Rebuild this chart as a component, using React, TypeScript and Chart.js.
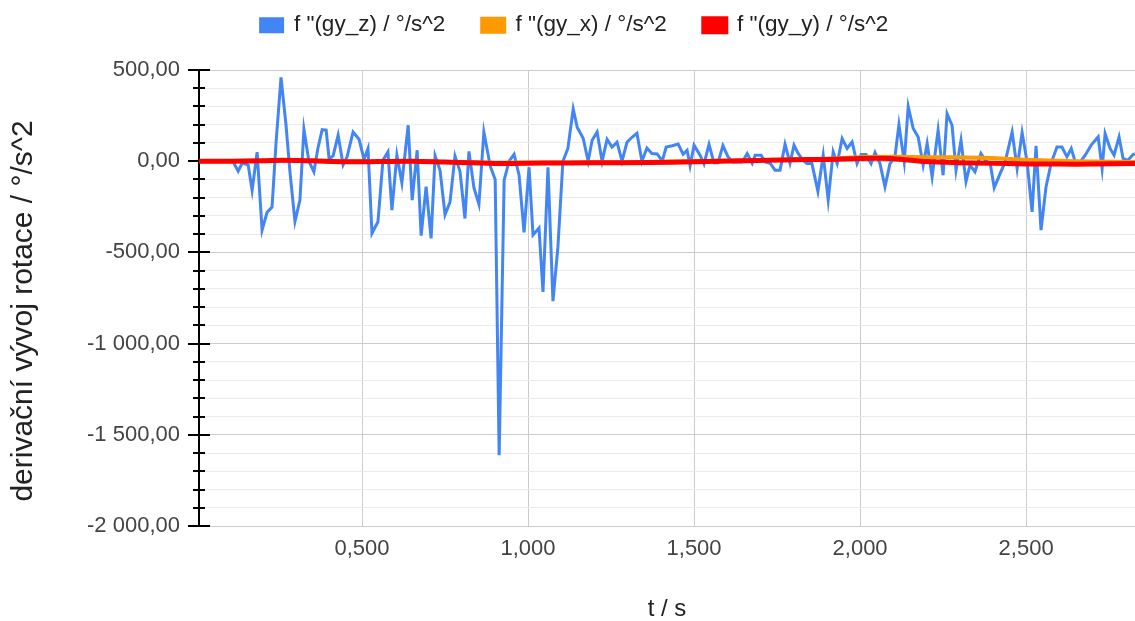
import React, { useEffect, useRef } from 'react';
import { Chart, registerables } from 'chart.js';

Chart.register(...registerables);

// time stamps (s) and values of f''(gy_z)
const timeZ = [0.009,0.027,0.042,0.057,0.072,0.087,0.096,0.111,0.127,0.139,0.157,0.169,0.184,0.199,0.214,0.229,0.241,0.256,0.271,0.283,0.298,0.313,0.325,0.340,0.355,0.367,0.380,0.392,0.401,0.413,0.428,0.443,0.455,0.473,0.491,0.506,0.518,0.530,0.548,0.563,0.578,0.590,0.605,0.620,0.639,0.651,0.666,0.678,0.693,0.708,0.720,0.735,0.750,0.765,0.780,0.795,0.810,0.822,0.837,0.852,0.867,0.886,0.901,0.913,0.928,0.943,0.958,0.973,0.988,1.003,1.015,1.033,1.045,1.060,1.075,1.090,1.105,1.120,1.136,1.148,1.166,1.181,1.193,1.208,1.223,1.238,1.253,1.268,1.283,1.298,1.313,1.328,1.343,1.358,1.373,1.389,1.404,1.416,1.434,1.452,1.467,1.479,1.488,1.500,1.518,1.530,1.545,1.560,1.572,1.587,1.602,1.617,1.633,1.645,1.660,1.675,1.684,1.702,1.714,1.729,1.744,1.759,1.774,1.789,1.801,1.813,1.828,1.840,1.855,1.873,1.889,1.904,1.919,1.931,1.946,1.961,1.976,1.991,2.003,2.018,2.033,2.045,2.060,2.075,2.090,2.105,2.117,2.133,2.145,2.160,2.175,2.190,2.202,2.217,2.235,2.250,2.262,2.277,2.289,2.304,2.319,2.331,2.346,2.364,2.377,2.392,2.404,2.422,2.437,2.458,2.473,2.488,2.503,2.518,2.530,2.545,2.560,2.575,2.593,2.608,2.623,2.636,2.648,2.663,2.678,2.696,2.717,2.729,2.738,2.753,2.765,2.780,2.792,2.807,2.822,2.828];
const gyZ = [0,3,-2,4,-3,2,0,0,-55,-10,-20,-160,50,-378,-280,-252,100,460,200,-60,-330,-213,175,0,-58,70,173,170,10,30,142,-20,24,160,120,10,70,-395,-332,5,51,-268,33,-118,197,-213,60,-408,-140,-423,30,-50,-293,-225,28,-55,-314,54,-145,-236,160,-26,-100,-1612,-104,0,38,-77,-390,-33,-405,-367,-717,-33,-767,-470,0,70,287,186,126,0,115,160,0,120,77,104,0,104,131,153,0,72,42,40,0,78,85,94,38,60,-25,88,33,-15,92,-8,-8,86,25,-5,-5,-5,42,-11,33,33,-4,-11,-49,-49,93,-11,88,44,5,-13,-13,-165,33,-213,51,-13,124,70,106,-13,37,37,-13,48,-13,-141,-13,24,201,-4,300,179,133,-22,97,-86,170,-77,261,197,-49,115,-112,-22,-58,42,5,-13,-146,-67,-4,160,-40,157,-4,-278,84,-378,-141,-13,78,78,24,70,-4,-4,33,88,133,-40,151,70,33,133,15,5,37,40];

// time stamps (s) and values of f''(gy_x), f''(gy_y)
const timeXY = [0.009,0.1,0.2,0.26,0.35,0.45,0.55,0.65,0.75,0.9,1.05,1.2,1.37,1.5,1.65,1.8,1.9,2.0,2.1,2.2,2.3,2.4,2.5,2.6,2.7,2.828];
const gyX = [0,0,2,4,2,-2,-1,0,-4,-8,-7,-6,-4,0,4,9,14,22,24,22,21,18,8,2,-2,-4];
const gyY = [0,0,2,5,2,-3,-2,0,-5,-12,-10,-9,-7,-3,2,8,10,15,14,-2,-8,-11,-15,-16,-16,-13];

const seriesLabels = ['f "(gy_z) / °/s^2', 'f "(gy_x) / °/s^2', 'f "(gy_y) / °/s^2'];
const seriesColors = ['#4285F4', '#FF9900', '#FF0000'];

const xTickValues = [0.5, 1.0, 1.5, 2.0, 2.5];
const xMin = 0.009;
const xMax = 2.828;
const yMin = -2000;
const yMax = 500;
const yMinorStep = 100;
const yMajorStep = 500;

const xTitle = 't / s';
const yTitle = 'derivační vývoj rotace / °/s^2';

const FONT = 'Arial, "Liberation Sans", sans-serif';

function fmtY(v: number): string {
  const neg = v < 0;
  const a = Math.abs(Math.round(v));
  const s = a.toString().replace(/\B(?=(\d{3})+(?!\d))/g, ' ');
  return (neg ? '-' : '') + s + ',00';
}

function fmtX(v: number): string {
  return v.toFixed(3).replace('.', ',');
}

const axisPlugin = {
  id: 'axisTicks',
  beforeDraw(chart: any) {
    const lg = chart.legend;
    if (lg) {
      lg.left = 7;
      lg.right = 1142;
    }
  },
  beforeDatasetsDraw(chart: any) {
    const { ctx, chartArea, scales } = chart;
    const y = scales.y;
    const x0 = Math.round(chartArea.left);
    ctx.save();
    ctx.strokeStyle = '#000';
    ctx.lineWidth = 2;
    ctx.beginPath();
    ctx.moveTo(x0, chartArea.top);
    ctx.lineTo(x0, chartArea.bottom);
    ctx.stroke();
    y.ticks.forEach((t: any) => {
      const py = Math.round(y.getPixelForValue(t.value));
      const major = Math.abs(t.value % yMajorStep) < 1e-6;
      const len = major ? 11 : 6;
      ctx.beginPath();
      ctx.moveTo(x0 - len, py);
      ctx.lineTo(x0 + len, py);
      ctx.stroke();
    });
    ctx.restore();
  },
  afterDraw(chart: any) {
    const { ctx, chartArea } = chart;
    ctx.save();
    ctx.translate(24, (chartArea.top + chartArea.bottom) / 2 + 13);
    ctx.rotate(-Math.PI / 2);
    ctx.fillStyle = '#222';
    ctx.font = '30px ' + FONT;
    ctx.textAlign = 'center';
    ctx.textBaseline = 'middle';
    ctx.fillText(yTitle, 0, 0);
    ctx.restore();
  },
};

const legendSpace = {
  id: 'legendSpace',
  beforeInit(chart: any) {
    const legend = chart.legend;
    if (!legend) return;
    const orig = legend.fit;
    legend.fit = function () {
      orig.call(this);
      this.height = 93;
    };
  },
};

export default function App() {
  const ref = useRef<HTMLCanvasElement | null>(null);

  useEffect(() => {
    if (!ref.current) return;
    const mk = (ts: number[], vs: number[]) => ts.map((t, i) => ({ x: t, y: vs[i] }));
    const chart = new Chart(ref.current, {
      type: 'line',
      data: {
        datasets: [
          {
            label: seriesLabels[0],
            data: mk(timeZ, gyZ),
            borderColor: seriesColors[0],
            backgroundColor: seriesColors[0],
            borderWidth: 3,
            pointRadius: 0,
            tension: 0,
            order: 3,
          },
          {
            label: seriesLabels[1],
            data: mk(timeXY, gyX),
            borderColor: seriesColors[1],
            backgroundColor: seriesColors[1],
            borderWidth: 4,
            pointRadius: 0,
            tension: 0.3,
            order: 2,
          },
          {
            label: seriesLabels[2],
            data: mk(timeXY, gyY),
            borderColor: seriesColors[2],
            backgroundColor: seriesColors[2],
            borderWidth: 5,
            pointRadius: 0,
            tension: 0.3,
            order: 1,
          },
        ],
      },
      options: {
        animation: false,
        responsive: false,
        maintainAspectRatio: false,
        layout: { padding: { top: -23, left: 0, right: 0, bottom: 0 } },
        plugins: {
          legend: {
            position: 'top',
            align: 'center',
            labels: {
              boxWidth: 22,
              boxHeight: 13,
              padding: 37,
              color: '#222',
              font: { family: FONT, size: 22.5 },
              sort: (a: any, b: any) => a.datasetIndex - b.datasetIndex,
            },
          },
          tooltip: { enabled: false },
        },
        scales: {
          x: {
            type: 'linear',
            min: xMin,
            max: xMax,
            afterBuildTicks: (scale: any) => {
              scale.ticks = xTickValues.map((v) => ({ value: v }));
            },
            afterFit: (scale: any) => {
              scale.height = 95;
            },
            ticks: {
              callback: (v: any) => fmtX(Number(v)),
              color: '#444',
              font: { family: FONT, size: 22 },
              padding: 10,
              maxRotation: 0,
              autoSkip: false,
            },
            grid: { color: '#cccccc', lineWidth: 1, drawTicks: false },
            border: { display: false },
            title: {
              display: true,
              text: xTitle,
              color: '#222',
              font: { family: FONT, size: 24, lineHeight: 1 },
              padding: { top: 0, bottom: 0 },
            },
          },
          y: {
            type: 'linear',
            min: yMin,
            max: yMax,
            afterBuildTicks: (scale: any) => {
              const arr: any[] = [];
              for (let v = yMin; v <= yMax; v += yMinorStep) arr.push({ value: v });
              scale.ticks = arr;
            },
            afterFit: (scale: any) => {
              scale.width = 199;
            },
            ticks: {
              callback: (v: any) => (Math.abs(Number(v) % yMajorStep) < 1e-6 ? fmtY(Number(v)) : ''),
              color: '#444',
              font: { family: FONT, size: 22 },
              padding: 19,
              autoSkip: false,
            },
            grid: {
              color: (c: any) =>
                c.tick && Math.abs(c.tick.value % yMajorStep) < 1e-6 ? '#cccccc' : '#ebebeb',
              lineWidth: 1,
              drawTicks: false,
            },
            border: { display: false },
            title: { display: false },
          },
        },
      } as any,
      plugins: [axisPlugin, legendSpace],
    });
    return () => chart.destroy();
  }, []);

  return (
    <div style={{ position: 'absolute', left: 0, top: 0, width: 1135, height: 621, background: '#fff' }}>
      <canvas ref={ref} width={1135} height={621} style={{ display: 'block' }} />
    </div>
  );
}
